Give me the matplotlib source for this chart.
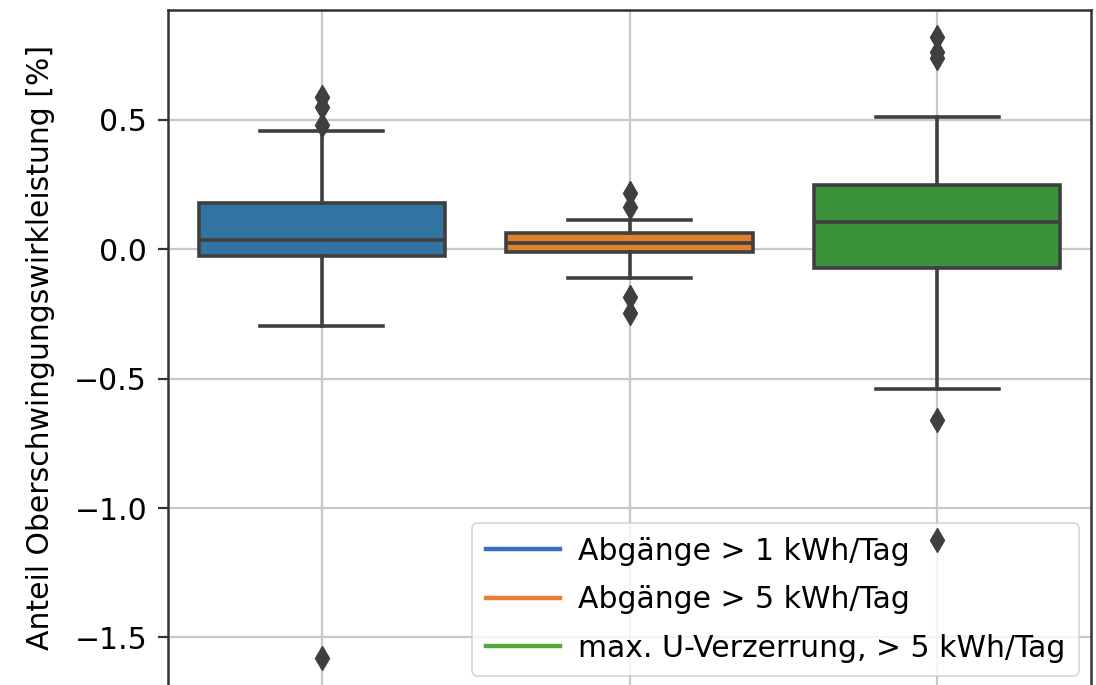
import matplotlib
matplotlib.use("Agg")
import matplotlib.pyplot as plt
from matplotlib.lines import Line2D

# ---- data ----
labels = ["Abgänge > 1 kWh/Tag", "Abgänge > 5 kWh/Tag", "max. U-Verzerrung, > 5 kWh/Tag"]
whislo = [-0.297, -0.112, -0.540]
q1 = [-0.027, -0.012, -0.075]
med = [0.035, 0.023, 0.104]
q3 = [0.178, 0.062, 0.247]
whishi = [0.456, 0.112, 0.510]
fliers = [
    [0.479, 0.548, 0.587, -1.579],
    [0.162, 0.216, -0.185, -0.247],
    [0.737, 0.760, 0.819, -0.660, -1.124],
]
box_colors = ["#3274a1", "#e1812c", "#3a923a"]
legend_colors = ["#3a6cc8", "#ec7a30", "#56a83a"]
yticks = [-1.5, -1.0, -0.5, 0.0, 0.5]

plt.rcParams["font.family"] = ["DejaVu Sans"]
plt.rcParams["axes.unicode_minus"] = True
FS = 21.5

fig = plt.figure(figsize=(10.96, 6.85), dpi=100)
ax = fig.add_axes([168 / 1096, 0.0, (1091 - 168) / 1096, 1 - 10 / 685])

stats = []
for i in range(len(labels)):
    stats.append(dict(label=labels[i], whislo=whislo[i], q1=q1[i], med=med[i],
                      q3=q3[i], whishi=whishi[i], fliers=fliers[i]))

line_c = "#3f3f3f"
lw = 2.6
bp = ax.bxp(stats, positions=range(len(labels)), widths=0.8, patch_artist=True,
            boxprops=dict(edgecolor=line_c, linewidth=lw),
            medianprops=dict(color=line_c, linewidth=lw),
            whiskerprops=dict(color=line_c, linewidth=lw),
            capprops=dict(color=line_c, linewidth=lw),
            capwidths=0.4,
            flierprops=dict(marker="d", markerfacecolor=line_c, markeredgecolor=line_c,
                            markersize=12, linestyle="none"),
            zorder=3)
for patch, c in zip(bp["boxes"], box_colors):
    patch.set_facecolor(c)

ax.set_xlim(-0.5, 2.5)
ax.set_ylim(-1.6834, 0.9228)
ax.set_yticks(yticks)
ax.set_xticks(range(len(labels)))
ax.tick_params(axis="x", bottom=False, labelbottom=False)
ax.tick_params(axis="y", labelsize=FS, length=7, width=1.6, color="#333333", pad=8)
ax.grid(True, color="#c8c8c8", linewidth=1.6, zorder=0)
ax.set_axisbelow(True)
for s in ["left", "right", "top"]:
    ax.spines[s].set_linewidth(1.8)
    ax.spines[s].set_color("#333333")
ax.spines["bottom"].set_visible(False)

ax.set_ylabel("Anteil Oberschwingungswirkleistung [%]", fontsize=FS, labelpad=14)

handles = [Line2D([0], [0], color=c, linewidth=3.2) for c in legend_colors]
leg = ax.legend(handles, labels, loc="lower right",
                bbox_to_anchor=(1079 / 1096, 9 / 685), bbox_transform=fig.transFigure,
                fontsize=FS, framealpha=0.8, handlelength=2.5, handletextpad=0.6,
                borderpad=0.45, labelspacing=0.65, borderaxespad=0)
leg.get_frame().set_linewidth(1.2)
leg.set_zorder(2.9)

fig.savefig("out.png", dpi=100)
